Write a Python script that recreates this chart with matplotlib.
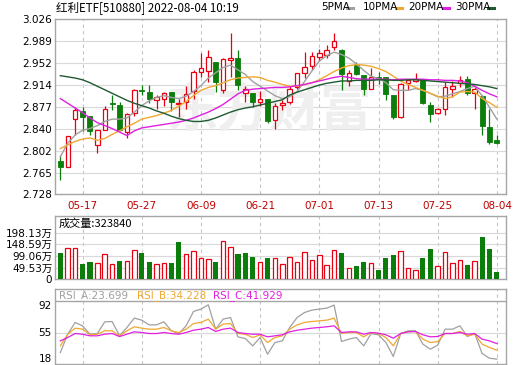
import matplotlib
matplotlib.use("Agg")
import matplotlib.pyplot as plt
from matplotlib.lines import Line2D
import numpy as np

plt.rcParams["font.family"] = ["DejaVu Sans", "Noto Sans CJK SC"]

# ---- donnees ----
dates = ["05-12", "05-13", "05-16", "05-17", "05-18", "05-19", "05-20",
         "05-23", "05-24", "05-25", "05-26", "05-27", "05-30", "05-31",
         "06-01", "06-02", "06-06", "06-07", "06-08", "06-09", "06-10",
         "06-13", "06-14", "06-15", "06-16", "06-17", "06-20", "06-21",
         "06-22", "06-23", "06-24", "06-27", "06-28", "06-29", "06-30",
         "07-01", "07-04", "07-05", "07-06", "07-07", "07-08", "07-11",
         "07-12", "07-13", "07-14", "07-15", "07-18", "07-19", "07-20",
         "07-21", "07-22", "07-25", "07-26", "07-27", "07-28", "07-29",
         "08-01", "08-02", "08-03", "08-04"]

opens = [2.784, 2.774, 2.857, 2.869, 2.861, 2.812, 2.838, 2.883, 2.880, 2.834,
         2.867, 2.906, 2.903, 2.889, 2.891, 2.902, 2.882, 2.885, 2.904, 2.936,
         2.938, 2.953, 2.906, 2.956, 2.960, 2.900, 2.901, 2.886, 2.890, 2.854,
         2.880, 2.886, 2.910, 2.934, 2.947, 2.962, 2.966, 2.979, 2.974, 2.921,
         2.948, 2.931, 2.908, 2.927, 2.927, 2.897, 2.859, 2.917, 2.921, 2.923,
         2.880, 2.867, 2.874, 2.908, 2.918, 2.924, 2.901, 2.895, 2.842, 2.820]
highs = [2.795, 2.828, 2.877, 2.877, 2.862, 2.838, 2.878, 2.897, 2.886, 2.866,
         2.908, 2.914, 2.914, 2.897, 2.903, 2.902, 2.890, 2.912, 2.940, 2.968,
         2.973, 2.953, 2.960, 3.002, 2.974, 2.912, 2.901, 2.904, 2.891, 2.883,
         2.889, 2.912, 2.934, 2.971, 2.971, 2.975, 2.982, 3.002, 2.975, 2.940,
         2.954, 2.931, 2.943, 2.937, 2.928, 2.897, 2.917, 2.925, 2.934, 2.925,
         2.886, 2.875, 2.919, 2.921, 2.929, 2.930, 2.911, 2.897, 2.874, 2.829]
lows = [2.752, 2.774, 2.829, 2.836, 2.829, 2.799, 2.837, 2.872, 2.836, 2.824,
        2.861, 2.897, 2.883, 2.874, 2.878, 2.869, 2.859, 2.873, 2.890, 2.928,
        2.920, 2.903, 2.900, 2.928, 2.906, 2.886, 2.876, 2.879, 2.849, 2.840,
        2.872, 2.882, 2.908, 2.926, 2.940, 2.955, 2.960, 2.974, 2.906, 2.912,
        2.931, 2.897, 2.907, 2.915, 2.889, 2.856, 2.858, 2.905, 2.920, 2.881,
        2.851, 2.865, 2.863, 2.894, 2.910, 2.897, 2.874, 2.829, 2.813, 2.813]
closes = [2.774, 2.827, 2.872, 2.859, 2.836, 2.837, 2.874, 2.881, 2.837, 2.864,
          2.905, 2.904, 2.891, 2.893, 2.901, 2.886, 2.884, 2.899, 2.936, 2.943,
          2.962, 2.920, 2.958, 2.960, 2.914, 2.907, 2.886, 2.890, 2.853, 2.878,
          2.883, 2.907, 2.934, 2.945, 2.963, 2.968, 2.974, 2.989, 2.933, 2.935,
          2.933, 2.908, 2.928, 2.925, 2.899, 2.859, 2.916, 2.922, 2.925, 2.883,
          2.865, 2.873, 2.911, 2.912, 2.923, 2.901, 2.907, 2.845, 2.817, 2.816]

ma5 = [2.792, 2.815, 2.829, 2.837, 2.840, 2.845, 2.852, 2.856, 2.856, 2.858,
       2.868, 2.879, 2.887, 2.893, 2.896, 2.893, 2.891, 2.895, 2.903, 2.913,
       2.926, 2.935, 2.944, 2.948, 2.940, 2.932, 2.920, 2.912, 2.904, 2.896,
       2.891, 2.894, 2.903, 2.920, 2.938, 2.955, 2.964, 2.970, 2.966, 2.960,
       2.950, 2.939, 2.929, 2.925, 2.918, 2.906, 2.905, 2.905, 2.908, 2.905,
       2.900, 2.894, 2.895, 2.899, 2.903, 2.908, 2.912, 2.896, 2.876, 2.856]
ma10 = [2.806, 2.812, 2.818, 2.822, 2.824, 2.820, 2.823, 2.830, 2.836, 2.843,
        2.849, 2.856, 2.859, 2.862, 2.866, 2.871, 2.878, 2.886, 2.896, 2.905,
        2.910, 2.913, 2.918, 2.923, 2.926, 2.927, 2.928, 2.927, 2.922, 2.919,
        2.915, 2.912, 2.912, 2.915, 2.918, 2.923, 2.930, 2.937, 2.943, 2.947,
        2.949, 2.948, 2.946, 2.942, 2.937, 2.929, 2.921, 2.915, 2.910, 2.905,
        2.900, 2.895, 2.891, 2.894, 2.902, 2.903, 2.902, 2.891, 2.884, 2.876]
ma20 = [2.891, 2.883, 2.875, 2.867, 2.858, 2.850, 2.845, 2.840, 2.834, 2.828,
        2.836, 2.841, 2.843, 2.845, 2.847, 2.849, 2.851, 2.854, 2.858, 2.863,
        2.868, 2.874, 2.881, 2.890, 2.899, 2.905, 2.907, 2.908, 2.909, 2.910,
        2.910, 2.911, 2.913, 2.915, 2.918, 2.921, 2.924, 2.927, 2.929, 2.927,
        2.925, 2.924, 2.924, 2.924, 2.924, 2.923, 2.924, 2.924, 2.924, 2.924,
        2.923, 2.923, 2.922, 2.922, 2.921, 2.918, 2.912, 2.905, 2.899, 2.894]
ma30 = [2.930, 2.928, 2.926, 2.923, 2.918, 2.912, 2.906, 2.900, 2.894, 2.888,
        2.883, 2.879, 2.875, 2.870, 2.866, 2.861, 2.857, 2.854, 2.852, 2.852,
        2.854, 2.858, 2.863, 2.868, 2.872, 2.875, 2.877, 2.880, 2.883, 2.886,
        2.889, 2.897, 2.902, 2.906, 2.910, 2.914, 2.917, 2.919, 2.921, 2.921,
        2.922, 2.922, 2.922, 2.923, 2.923, 2.922, 2.922, 2.923, 2.923, 2.922,
        2.921, 2.920, 2.919, 2.918, 2.917, 2.916, 2.915, 2.913, 2.911, 2.908]

# volume en "万"
volumes = [113, 131.6, 131.6, 65, 73.5, 69, 106, 65, 77.7, 77.7,
           123, 113, 73.5, 65, 69, 69, 158, 107, 119, 89,
           87, 73.5, 162.6, 137, 107, 110, 94.7, 72, 89, 89,
           65, 94.7, 73.5, 116, 82, 103, 59.4, 123, 113, 46.7,
           55, 73.5, 69, 39.6, 90.5, 103, 119, 46.7, 38, 90.5,
           127, 55, 116, 69, 80.7, 60.8, 79, 179.6, 128.6, 32.384]

rsi_a = [31.5, 53, 66.8, 62.8, 53, 53.8, 67.5, 67.9, 51.1, 60.9,
         71.9, 69.5, 64, 64, 67.5, 57, 53.8, 62.8, 79.7, 82.5,
         87.5, 58.9, 70.7, 72.6, 49.9, 47.9, 39.3, 49.1, 29.5, 43.2,
         45.2, 60.9, 72.6, 78.5, 81.3, 82.5, 83.6, 87.2, 44.4, 47.2,
         49.1, 39.3, 53.8, 52.3, 43.2, 26.8, 53.8, 57, 57, 41.3,
         35.4, 40.1, 58.9, 58.9, 62.8, 50.3, 53.8, 30.3, 24.8, 23.699]
rsi_b = [39.3, 53, 60.1, 58.9, 52.3, 53, 57, 57, 51.1, 57,
         61.7, 60.1, 58.9, 58.9, 60.9, 57, 55, 58.9, 65.6, 66.8,
         70.7, 58.9, 64.8, 65.6, 53.8, 53, 49.1, 52.3, 43.2, 49.1,
         51.1, 58.9, 64, 66.8, 67.9, 68.7, 69.5, 71.9, 53.8, 55,
         55, 49.9, 55, 53.8, 49.1, 39.3, 53.8, 55.8, 56.2, 47.2,
         43.2, 44.4, 53.8, 53.8, 56.2, 51.1, 53, 41.3, 37.4, 34.228]
rsi_c = [45.2, 49.1, 53.8, 53, 51.1, 51.1, 53, 53.8, 50.3, 53,
         55.8, 55, 53.8, 53.8, 55, 53.8, 53, 55, 57.7, 58.9,
         60.9, 56.2, 58.9, 60.1, 55, 53.8, 53, 53, 49.9, 51.1,
         52.3, 55.8, 57.7, 58.9, 60.1, 60.9, 61.7, 62.8, 55, 55.8,
         55.8, 53, 55, 54.2, 52.3, 48.3, 53.8, 55.8, 56.2, 52.3,
         49.9, 50.3, 53.8, 53.8, 55, 53, 53.8, 47.2, 45.2, 41.929]

price_ticks = ["3.026", "2.989", "2.952", "2.914", "2.877", "2.840", "2.802", "2.765", "2.728"]
vol_ticks = ["198.13万", "148.59万", "99.06万", "49.53万", "0"]
rsi_ticks = ["92", "55", "18"]
ma_names = ["5PMA", "10PMA", "20PMA", "30PMA"]
rsi_noms = ["RSI_A", "RSI_B", "RSI_C"]
title = "红利ETF[510880] 2022-08-04 10:19"
vol_title = "成交量:323840"
filigrane = "东方财富"

# ---- styles ----
ROUGE = "#e60012"
VERT = "#0a7d0a"
MA_COULEURS = ["#a0a0a0", "#f0a830", "#e020e0", "#1e5a32"]
BORD = "#a6a6a6"
GRILLE = "#d9d9d9"
W, H = 520, 365


def boite(left, top, right, bottom):
    return [left / W, 1 - bottom / H, (right - left) / W, (bottom - top) / H]


def habiller(ax, xlim):
    ax.set_xlim(*xlim)
    for s in ax.spines.values():
        s.set_color(BORD)
        s.set_linewidth(1.0)
    ax.tick_params(length=0, labelsize=7.5, pad=2)
    for i in range(3, len(dates), 8):
        ax.axvline(i, color="#c4c4c4", lw=0.8, ls=(0, (3, 3)), zorder=0)


fig = plt.figure(figsize=(W / 100, H / 100), dpi=100)
x = np.arange(len(dates))
o, hi, lo, c = map(np.array, (opens, highs, lows, closes))
up = c >= o
xlim = (-0.72, 60.19)

# ---- chandeliers ----
ax = fig.add_axes(boite(55, 19.3, 505.7, 194.3))
habiller(ax, xlim)
ax.set_ylim(2.728, 3.026)
pt = [float(t) for t in price_ticks]
ax.set_yticks(pt)
ax.set_yticklabels(price_ticks)
for v in pt:
    ax.axhline(v, color=GRILLE, lw=0.8, zorder=0)
ax.set_xticks(x[3::8])
ax.set_xticklabels(dates[3::8], color="#c00000", fontsize=7.5)
ax.tick_params(axis="x", pad=5)

# filigrane en fond, sous les bougies
ax.text(0.703, 0.48, filigrane, transform=ax.transAxes,
        family=["Noto Sans CJK SC"], fontsize=37, fontweight="bold",
        color="#efefef", ha="right", va="center", zorder=1)

couleurs = np.where(up, ROUGE, VERT)
ax.vlines(x, lo, hi, colors=couleurs, lw=0.9, zorder=2)
corps = np.maximum(np.abs(c - o), 0.0009)
bas = np.minimum(o, c)
ax.bar(x[up], corps[up], bottom=bas[up], width=0.6, facecolor="white",
       edgecolor=ROUGE, linewidth=0.9, zorder=3)
ax.bar(x[~up], corps[~up], bottom=bas[~up], width=0.66, color=VERT,
       edgecolor=VERT, linewidth=0.6, zorder=3)
for serie, coul in zip([ma5, ma10, ma20, ma30], MA_COULEURS):
    ax.plot(x, serie, color=coul, lw=1.0, zorder=4)

# ---- volume ----
axv = fig.add_axes(boite(55, 216, 505.7, 279.3))
habiller(axv, xlim)
axv.set_ylim(0, 269.1)
vt = [float(t.replace("万", "")) for t in vol_ticks]
axv.set_yticks(vt)
axv.set_yticklabels(vol_ticks)
axv.set_xticks([])
for v in vt:
    axv.axhline(v, color=GRILLE, lw=0.8, zorder=0)
vol = np.array(volumes)
prev = np.concatenate([[o[0]], c[:-1]])
vup = c >= prev
axv.bar(x[vup], vol[vup], width=0.62, facecolor="white", edgecolor=ROUGE,
        linewidth=0.9, zorder=3)
axv.bar(x[~vup], vol[~vup], width=0.7, color=VERT, linewidth=0, zorder=3)
axv.text(0.007, 0.88, vol_title, transform=axv.transAxes, fontsize=8,
         va="center", ha="left", family=["Noto Sans CJK SC", "DejaVu Sans"])

# ---- RSI ----
axr = fig.add_axes(boite(55, 289, 505.7, 364))
habiller(axr, xlim)
axr.set_ylim(18, 106.1)
axr.set_xticks([])
axr.set_yticks([])
axr.axhline(92, color=BORD, lw=1.0, zorder=1)
axr.axhline(55, color=GRILLE, lw=0.8, zorder=0)
for lab, va in zip(rsi_ticks, ["top", "center", "bottom"]):
    axr.text(-0.007, float(lab), lab, transform=axr.get_yaxis_transform(),
             ha="right", va=va, fontsize=7.5)
for serie, coul in zip([rsi_a, rsi_b, rsi_c], MA_COULEURS[:3]):
    axr.plot(x, serie, color=coul, lw=0.9, zorder=3)
for nom, serie, coul, xp in zip(rsi_noms, [rsi_a, rsi_b, rsi_c], MA_COULEURS[:3],
                                [58.5, 137, 213]):
    fig.text(xp / W, 1 - 295.5 / H, f"{nom}:{serie[-1]:.3f}", color=coul,
             fontsize=7.5, va="center", ha="left")

# ---- titre et legende ----
fig.text(56 / W, 1 - 7.5 / H, title, fontsize=8.3, va="center", ha="left",
         family=["Noto Sans CJK SC", "DejaVu Sans"])
for nom, coul, xt, xd in zip(ma_names, MA_COULEURS, [321.5, 363, 408, 455],
                             [347, 396, 443, 488]):
    fig.text(xt / W, 1 - 7.5 / H, nom, fontsize=7.5, va="center", ha="left")
    fig.add_artist(Line2D([xd / W, (xd + 6) / W], [1 - 8 / H, 1 - 8 / H],
                          color=coul, lw=2.2))

fig.savefig("out.png", dpi=100, facecolor="white")
